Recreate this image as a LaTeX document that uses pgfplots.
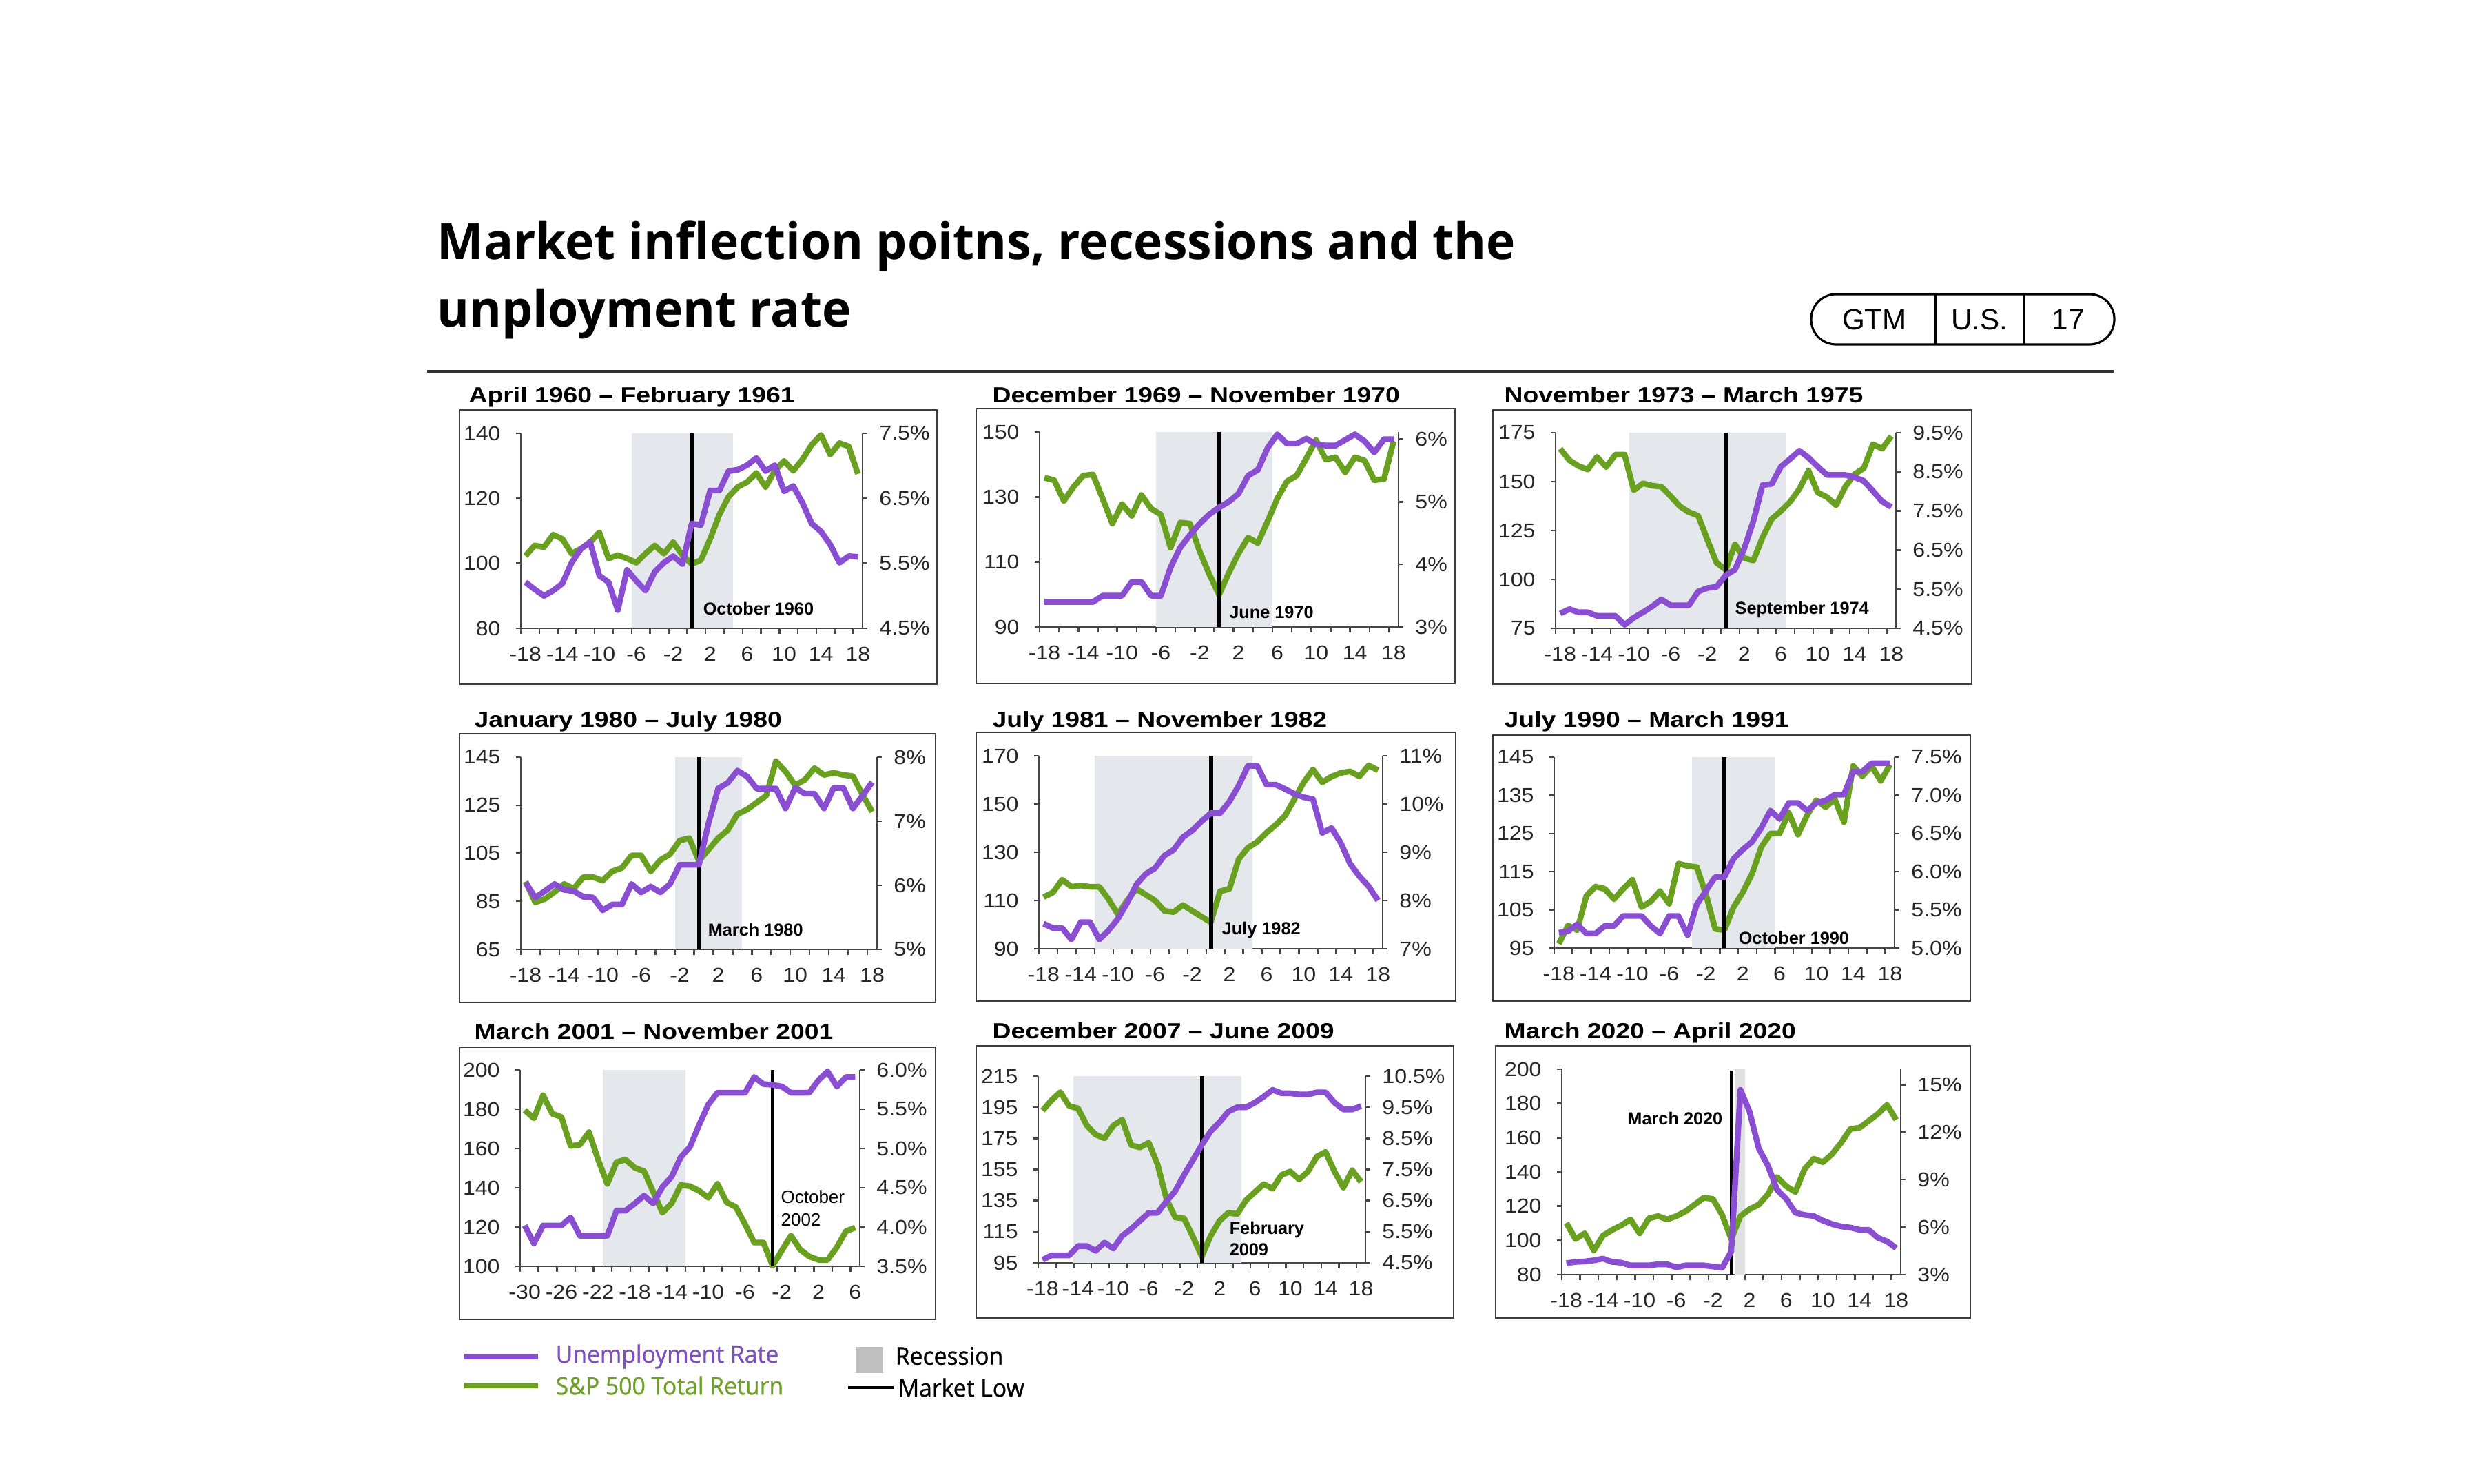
\documentclass[border=0pt]{standalone}
\usepackage{fontspec}
\usepackage{pgfplots}
\usepackage{pgfplotstable}
\pgfplotsset{compat=1.18}
\setmainfont{Liberation Sans}
\newfontfamily\ttlfont[FakeStretch=0.982]{Open Sans}
\newfontfamily\pfont[FakeStretch=1.18]{Liberation Sans}
\newfontfamily\tfont[FakeStretch=1.1]{Liberation Sans}
\newfontfamily\lgfont[FakeBold=0.9, FakeStretch=0.96]{Open Sans}

\definecolor{unc}{RGB}{137,78,210}
\definecolor{spc}{RGB}{106,160,32}
\definecolor{recess}{RGB}{228,232,236}
\definecolor{axc}{RGB}{70,70,70}
\definecolor{boxc}{RGB}{60,60,60}
\definecolor{ulg}{RGB}{125,80,190}
\definecolor{slg}{RGB}{110,160,40}

% month offset, S&P 500 total return (left), unemployment rate % (right)
\pgfplotstableread{
m s u
-18 102.3 5.21
-17 105.5 5.10
-16 105.0 5.00
-15 108.8 5.08
-14 107.5 5.19
-13 103.0 5.51
-12 104.5 5.72
-11 106.5 5.83
-10 109.5 5.31
-9 101.5 5.21
-8 102.5 4.78
-7 101.5 5.40
-6 100.2 5.23
-5 103.0 5.08
-4 105.5 5.37
-3 103.0 5.51
-2 106.5 5.61
-1 102.5 5.49
0 99.8 6.11
1 101.0 6.09
2 107.5 6.62
3 115.0 6.62
4 120.5 6.92
5 123.5 6.94
6 125.0 7.01
7 127.8 7.12
8 123.5 6.92
9 128.5 7.01
10 131.5 6.61
11 128.5 6.69
12 132.0 6.43
13 136.5 6.11
14 139.5 5.99
15 133.5 5.79
16 137.0 5.51
17 136.0 5.61
18 127.5 5.60
}\pA
\pgfplotstableread{
m s u
-18 135.9 3.40
-17 135.2 3.40
-16 128.8 3.40
-15 133.1 3.40
-14 136.6 3.40
-13 136.9 3.40
-12 129.5 3.50
-11 121.8 3.50
-10 127.8 3.50
-9 124.2 3.72
-8 130.6 3.72
-7 126.4 3.50
-6 124.6 3.50
-5 114.4 3.95
-4 122.1 4.27
-3 121.8 4.47
-2 113.3 4.65
-1 106.2 4.80
0 99.9 4.91
1 106.6 5.00
2 112.6 5.13
3 117.5 5.42
4 115.8 5.51
5 122.5 5.86
6 129.5 6.08
7 134.8 5.93
8 136.6 5.93
9 141.9 6.01
10 147.5 5.92
11 141.5 5.90
12 142.2 5.90
13 137.6 5.99
14 142.2 6.08
15 141.2 5.97
16 135.2 5.79
17 135.5 6.00
18 147.2 6.00
}\pB
\pgfplotstableread{
m s u
-18 166.8 4.88
-17 160.9 4.99
-16 157.9 4.91
-15 156.2 4.91
-14 162.6 4.82
-13 157.4 4.82
-12 163.8 4.82
-11 163.8 4.59
-10 145.6 4.77
-9 149.1 4.91
-8 147.9 5.06
-7 147.4 5.24
-6 142.6 5.09
-5 137.4 5.09
-4 134.4 5.09
-3 132.6 5.44
-2 120.3 5.53
-1 108.5 5.56
0 105.0 5.86
1 117.9 6.00
2 110.9 6.53
3 109.7 7.24
4 121.5 8.16
5 130.9 8.19
6 135.0 8.63
7 139.7 8.83
8 146.2 9.04
9 155.6 8.86
10 144.4 8.63
11 142.1 8.42
12 137.9 8.42
13 147.4 8.42
14 153.8 8.36
15 156.8 8.27
16 169.1 8.01
17 166.8 7.74
18 173.2 7.60
}\pC
\pgfplotstableread{
m s u
-18 93.2 6.04
-17 84.6 5.81
-16 86.0 5.91
-15 88.9 6.02
-14 92.2 5.93
-13 90.3 5.91
-12 95.1 5.82
-11 95.1 5.81
-10 93.6 5.61
-9 97.5 5.70
-8 98.9 5.70
-7 104.1 6.02
-6 104.1 5.89
-5 97.5 5.98
-4 102.2 5.89
-3 104.6 6.02
-2 110.3 6.32
-1 111.3 6.32
0 101.8 6.32
1 106.5 6.97
2 111.3 7.51
3 114.6 7.60
4 121.3 7.79
5 123.2 7.70
6 126.1 7.51
7 129.0 7.51
8 143.3 7.51
9 139.0 7.20
10 133.3 7.52
11 135.6 7.43
12 140.4 7.43
13 137.6 7.20
14 138.5 7.52
15 137.6 7.52
16 137.1 7.20
17 129.4 7.40
18 122.3 7.61
}\pD
\pgfplotstableread{
m s u
-18 111.4 7.52
-17 113.3 7.43
-16 118.6 7.43
-15 115.7 7.19
-14 116.2 7.55
-13 115.7 7.55
-12 115.7 7.19
-11 110.5 7.38
-10 104.3 7.62
-9 110.0 7.95
-8 114.8 8.33
-7 112.4 8.55
-6 110.0 8.67
-5 105.7 8.93
-4 105.2 9.05
-3 108.1 9.31
-2 105.7 9.45
-1 103.3 9.64
0 101.0 9.81
1 113.8 9.81
2 114.8 10.05
3 127.1 10.38
4 131.9 10.79
5 134.3 10.79
6 138.1 10.40
7 141.4 10.40
8 145.2 10.31
9 152.0 10.21
10 159.0 10.14
11 164.3 10.10
12 159.0 9.40
13 161.4 9.50
14 162.9 9.19
15 163.5 8.76
16 161.5 8.50
17 166.0 8.29
18 164.0 8.00
}\pE
\pgfplotstableread{
m s u
-18 96.1 5.20
-17 100.9 5.22
-16 99.7 5.31
-15 108.7 5.19
-14 111.1 5.19
-13 110.5 5.29
-12 107.8 5.29
-11 110.5 5.42
-10 112.9 5.42
-9 105.7 5.42
-8 107.2 5.29
-7 109.9 5.19
-6 106.6 5.42
-5 117.1 5.42
-4 116.5 5.17
-3 116.2 5.57
-2 109.0 5.75
-1 100.0 5.93
0 99.7 5.93
1 105.7 6.17
2 109.6 6.29
3 114.4 6.39
4 121.4 6.57
5 125.0 6.80
6 125.0 6.69
7 130.4 6.90
8 124.7 6.90
9 129.8 6.80
10 133.7 6.90
11 131.9 6.93
12 134.0 7.01
13 128.0 7.01
14 142.7 7.31
15 140.0 7.31
16 142.7 7.42
17 138.8 7.42
18 143.0 7.42
}\pF
\pgfplotstableread{
m s u
-30 179.5 4.02
-29 175.4 3.79
-28 187.1 4.02
-27 177.7 4.02
-26 176.0 4.02
-25 161.3 4.12
-24 161.9 3.89
-23 168.3 3.89
-22 154.3 3.89
-21 142.0 3.89
-20 153.1 4.21
-19 154.3 4.21
-18 150.2 4.30
-17 148.4 4.40
-16 137.9 4.30
-15 127.3 4.51
-14 132.0 4.64
-13 141.4 4.89
-12 140.8 5.02
-11 138.5 5.30
-10 134.9 5.56
-9 142.0 5.71
-8 132.6 5.71
-7 130.2 5.71
-6 121.5 5.71
-5 112.1 5.91
-4 112.1 5.82
-3 100.4 5.81
-2 108.0 5.79
-1 115.6 5.71
0 108.6 5.71
1 105.0 5.71
2 103.3 5.87
3 103.3 5.98
4 109.7 5.79
5 117.9 5.91
6 119.7 5.91
}\pG
\pgfplotstableread{
m s u
-18 192.9 4.60
-17 199.5 4.74
-16 204.7 4.74
-15 195.8 4.74
-14 194.3 5.04
-13 183.3 5.04
-12 177.4 4.89
-11 175.1 5.15
-10 183.3 4.96
-9 187.0 5.37
-8 170.7 5.59
-7 169.2 5.85
-6 172.2 6.11
-5 158.2 6.11
-4 136.0 6.48
-3 124.2 6.81
-2 123.5 7.33
-1 111.7 7.81
0 99.1 8.29
1 112.4 8.73
2 122.0 9.02
3 127.2 9.36
4 126.4 9.50
5 135.3 9.50
6 140.5 9.65
7 145.6 9.84
8 142.7 10.06
9 151.5 9.95
10 153.7 9.95
11 148.6 9.91
12 153.7 9.91
13 163.3 9.98
14 166.3 9.98
15 153.7 9.65
16 143.4 9.43
17 154.5 9.43
18 147.1 9.54
}\pH
\pgfplotstableread{
m s u
-18 110.2 3.72
-17 100.8 3.80
-16 104.1 3.83
-15 94.1 3.90
-14 102.8 4.01
-13 106.1 3.80
-12 108.8 3.75
-11 112.2 3.58
-10 104.1 3.58
-9 112.8 3.58
-8 114.2 3.65
-7 112.2 3.65
-6 114.2 3.46
-5 116.9 3.58
-4 120.9 3.58
-3 124.9 3.58
-2 124.2 3.51
-1 114.9 3.43
0 100.8 4.45
1 114.2 14.67
2 118.2 13.29
3 120.9 10.97
4 126.9 9.88
5 137.0 8.36
6 131.6 7.78
7 128.3 6.91
8 141.7 6.77
9 147.7 6.70
10 145.7 6.41
11 150.4 6.19
12 157.1 6.04
13 165.1 5.97
14 165.8 5.83
15 169.8 5.83
16 173.9 5.32
17 179.2 5.10
18 170.5 4.67
}\pI

\pgfplotsset{
  base/.style={scale only axis, clip=false, anchor=south west,
    xmin=-18.5, xmax=18.5,
    axis line style={draw=axc, line width=0.7pt},
    tick style={draw=axc, line width=0.7pt},
    tick align=outside, major tick length=0.07cm,
    tick label style={font=\tfont\fontsize{8.3}{9}\selectfont, text=black!85},
    /pgf/number format/assume math mode=true},
  L/.style={base, axis x line*=bottom, axis y line*=left,
    xtick={-18,-14,...,18}, minor xtick={-18.5,-16.5,...,17.5},
    minor tick length=0.08cm,
    every major x tick/.append style={draw=none},
    xticklabel style={yshift=-0.08cm}, yticklabel style={xshift=-0.1cm}},
  R/.style={base, axis x line=none, axis y line*=right, xtick=\empty,
    yticklabel style={xshift=0.05cm}},
  pct1/.style={yticklabel={\pgfmathprintnumber[fixed,fixed zerofill,precision=1]{\tick}\%}},
  pct0/.style={yticklabel={\pgfmathprintnumber[fixed,precision=0]{\tick}\%}},
}
\tikzset{
  spx/.style={spc, line width=2.4pt, line join=round},
  une/.style={unc, line width=2.4pt, line join=round},
  low/.style={black, line width=1.7pt},
  ann/.style={anchor=west, inner sep=0pt, font=\bfseries\fontsize{7.2}{8}\selectfont},
  ptitle/.style={anchor=base west, inner sep=0pt, font=\pfont\bfseries\fontsize{9}{10}\selectfont},
}

\begin{document}
\begin{tikzpicture}
\useasboundingbox (0,0) rectangle (36.10cm,-21.54cm);

% heading
\node[anchor=base west, inner sep=0pt, font=\ttlfont\bfseries\fontsize{20.7}{24}\selectfont]
  at (6.34cm,-3.77cm) {Market inflection poitns, recessions and the};
\node[anchor=base west, inner sep=0pt, font=\ttlfont\bfseries\fontsize{20.7}{24}\selectfont]
  at (6.34cm,-4.75cm) {unployment rate};
\draw[black, line width=0.9pt, rounded corners=0.36cm] (26.29cm,-4.27cm) rectangle (30.69cm,-5.00cm);
\draw[black, line width=0.9pt] (28.09cm,-4.27cm) -- (28.09cm,-5.00cm);
\draw[black, line width=0.9pt] (29.38cm,-4.27cm) -- (29.38cm,-5.00cm);
\node[font=\fontsize{12}{14}\selectfont] at (27.21cm,-4.64cm) {GTM};
\node[font=\fontsize{12}{14}\selectfont] at (28.73cm,-4.64cm) {U.S.};
\node[font=\fontsize{12}{14}\selectfont] at (30.02cm,-4.64cm) {17};
\draw[black!80, line width=0.9pt] (6.20cm,-5.39cm) -- (30.68cm,-5.39cm);

% panel frames and titles
\foreach \a/\b/\c/\d in {6.67/5.95/13.60/9.93, 14.17/5.93/21.12/9.92, 21.67/5.95/28.62/9.93,
  6.67/10.65/13.58/14.55, 14.17/10.63/21.13/14.53, 21.67/10.67/28.60/14.53,
  6.67/15.20/13.58/19.15, 14.17/15.18/21.10/19.13, 21.71/15.18/28.60/19.13}
  \draw[boxc, line width=0.8pt] (\a cm,-\b cm) rectangle (\c cm,-\d cm);
\node[ptitle] at (6.80cm,-5.85cm) {April 1960 – February 1961};
\node[ptitle] at (14.40cm,-5.85cm) {December 1969 – November 1970};
\node[ptitle] at (21.83cm,-5.85cm) {November 1973 – March 1975};
\node[ptitle] at (6.88cm,-10.55cm) {January 1980 – July 1980};
\node[ptitle] at (14.40cm,-10.55cm) {July 1981 – November 1982};
\node[ptitle] at (21.83cm,-10.55cm) {July 1990 – March 1991};
\node[ptitle] at (6.88cm,-15.08cm) {March 2001 – November 2001};
\node[ptitle] at (14.40cm,-15.07cm) {December 2007 – June 2009};
\node[ptitle] at (21.83cm,-15.07cm) {March 2020 – April 2020};

% ---- panel 1
\begin{axis}[L, at={(7.56cm,-9.12cm)}, width=4.96cm, height=2.83cm,
  ymin=80, ymax=140, ytick={80,100,...,140}]
  \addplot[fill=recess, draw=none] coordinates {(-6.5,80) (-6.5,140) (4.5,140) (4.5,80)} --cycle;
  \addplot[spx] table[x=m, y=s] {\pA};
  \addplot[low] coordinates {(0,80) (0,140)};
  \node[ann] at (axis cs:1.2,86) {October 1960};
\end{axis}
\begin{axis}[R, pct1, at={(7.56cm,-9.12cm)}, width=4.96cm, height=2.83cm,
  ymin=4.5, ymax=7.5, ytick={4.5,5.5,6.5,7.5}]
  \addplot[une] table[x=m, y=u] {\pA};
\end{axis}

% ---- panel 2
\begin{axis}[L, at={(15.09cm,-9.10cm)}, width=5.21cm, height=2.83cm,
  ymin=90, ymax=150, ytick={90,110,...,150}]
  \addplot[fill=recess, draw=none] coordinates {(-6.5,90) (-6.5,150) (5.5,150) (5.5,90)} --cycle;
  \addplot[spx] table[x=m, y=s] {\pB};
  \addplot[low] coordinates {(0,90) (0,150)};
  \node[ann] at (axis cs:1.0,94.6) {June 1970};
\end{axis}
\begin{axis}[R, pct0, at={(15.09cm,-9.10cm)}, width=5.21cm, height=2.83cm,
  ymin=3, ymax=6.117, ytick={3,4,5,6}]
  \addplot[une] table[x=m, y=u] {\pB};
\end{axis}

% ---- panel 3
\begin{axis}[L, at={(22.58cm,-9.12cm)}, width=4.94cm, height=2.84cm,
  ymin=75, ymax=175, ytick={75,100,...,175}]
  \addplot[fill=recess, draw=none] coordinates {(-10.5,75) (-10.5,175) (6.5,175) (6.5,75)} --cycle;
  \addplot[spx] table[x=m, y=s] {\pC};
  \addplot[low] coordinates {(0,75) (0,175)};
  \node[ann] at (axis cs:0.97,84.4) {September 1974};
\end{axis}
\begin{axis}[R, pct1, at={(22.58cm,-9.12cm)}, width=4.94cm, height=2.84cm,
  ymin=4.5, ymax=9.5, ytick={4.5,5.5,...,9.5}]
  \addplot[une] table[x=m, y=u] {\pC};
\end{axis}

% ---- panel 4
\begin{axis}[L, at={(7.56cm,-13.78cm)}, width=5.17cm, height=2.79cm,
  ymin=65, ymax=145, ytick={65,85,...,145}]
  \addplot[fill=recess, draw=none] coordinates {(-2.5,65) (-2.5,145) (4.5,145) (4.5,65)} --cycle;
  \addplot[spx] table[x=m, y=s] {\pD};
  \addplot[low] coordinates {(0,65) (0,145)};
  \node[ann] at (axis cs:0.9,73.1) {March 1980};
\end{axis}
\begin{axis}[R, pct0, at={(7.56cm,-13.78cm)}, width=5.17cm, height=2.79cm,
  ymin=5, ymax=8, ytick={5,6,7,8}]
  \addplot[une] table[x=m, y=u] {\pD};
\end{axis}

% ---- panel 5
\begin{axis}[L, at={(15.08cm,-13.77cm)}, width=4.99cm, height=2.80cm,
  ymin=90, ymax=170, ytick={90,110,...,170}]
  \addplot[fill=recess, draw=none] coordinates {(-12.5,90) (-12.5,170) (4.5,170) (4.5,90)} --cycle;
  \addplot[spx] table[x=m, y=s] {\pE};
  \addplot[low] coordinates {(0,90) (0,170)};
  \node[ann] at (axis cs:1.15,97.6) {July 1982};
\end{axis}
\begin{axis}[R, pct0, at={(15.08cm,-13.77cm)}, width=4.99cm, height=2.80cm,
  ymin=7, ymax=11, ytick={7,8,...,11}]
  \addplot[une] table[x=m, y=u] {\pE};
\end{axis}

% ---- panel 6
\begin{axis}[L, at={(22.56cm,-13.76cm)}, width=4.94cm, height=2.77cm,
  ymin=95, ymax=145, ytick={95,105,...,145}]
  \addplot[fill=recess, draw=none] coordinates {(-3.5,95) (-3.5,145) (5.5,145) (5.5,95)} --cycle;
  \addplot[spx] table[x=m, y=s] {\pF};
  \addplot[low] coordinates {(0,95) (0,145)};
  \node[ann] at (axis cs:1.5,97.6) {October 1990};
\end{axis}
\begin{axis}[R, pct1, at={(22.56cm,-13.76cm)}, width=4.94cm, height=2.77cm,
  ymin=5, ymax=7.5, ytick={5,5.5,...,7.5}]
  \addplot[une] table[x=m, y=u] {\pF};
\end{axis}

% ---- panel 7
\begin{axis}[L, at={(7.55cm,-18.38cm)}, width=4.93cm, height=2.85cm,
  xmin=-30.5, xmax=6.5, xtick={-30,-26,...,6}, minor xtick={-30.5,-28.5,...,5.5},
  ymin=100, ymax=200, ytick={100,120,...,200}]
  \addplot[fill=recess, draw=none] coordinates {(-21.5,100) (-21.5,200) (-12.5,200) (-12.5,100)} --cycle;
  \addplot[spx] table[x=m, y=s] {\pG};
  \addplot[black, line width=1.3pt] coordinates {(-3,100) (-3,200)};
  \node[anchor=west, inner sep=0pt, font=\fontsize{7.4}{8}\selectfont] at (axis cs:-2.14,135.5) {October};
  \node[anchor=west, inner sep=0pt, font=\fontsize{7.4}{8}\selectfont] at (axis cs:-2.14,123.8) {2002};
\end{axis}
\begin{axis}[R, pct1, at={(7.55cm,-18.38cm)}, width=4.93cm, height=2.85cm,
  xmin=-30.5, xmax=6.5, ymin=3.5, ymax=6.0, ytick={3.5,4,...,6}]
  \addplot[une] table[x=m, y=u] {\pG};
\end{axis}

% ---- panel 8
\begin{axis}[L, at={(15.07cm,-18.33cm)}, width=4.75cm, height=2.71cm,
  ymin=95, ymax=215, ytick={95,115,...,215}]
  \addplot[fill=recess, draw=none] coordinates {(-14.5,95) (-14.5,215) (4.5,215) (4.5,95)} --cycle;
  \addplot[spx] table[x=m, y=s] {\pH};
  \addplot[low] coordinates {(0,95) (0,215)};
  \node[ann] at (axis cs:3.08,116.1) {February};
  \node[ann] at (axis cs:3.08,103.6) {2009};
\end{axis}
\begin{axis}[R, pct1, at={(15.07cm,-18.33cm)}, width=4.75cm, height=2.71cm,
  ymin=4.5, ymax=10.5, ytick={4.5,5.5,...,10.5}]
  \addplot[une] table[x=m, y=u] {\pH};
\end{axis}

% ---- panel 9
\begin{axis}[L, at={(22.67cm,-18.50cm)}, width=4.92cm, height=2.98cm,
  ymin=80, ymax=200, ytick={80,100,...,200}]
  \addplot[fill=black!12, draw=none] coordinates {(0.4,80) (0.4,200) (1.5,200) (1.5,80)} --cycle;
  \addplot[spx] table[x=m, y=s] {\pI};
  \addplot[black, line width=1.3pt] coordinates {(0,80) (0,199)};
  \node[ann, anchor=east] at (axis cs:-0.9,171.2) {March 2020};
\end{axis}
\begin{axis}[R, pct0, at={(22.67cm,-18.50cm)}, width=4.92cm, height=2.98cm,
  ymin=3, ymax=15.97, ytick={3,6,...,15}]
  \addplot[une] table[x=m, y=u] {\pI};
\end{axis}

% legend
\draw[unc, line width=2.2pt] (6.74cm,-19.69cm) -- (7.81cm,-19.69cm);
\node[anchor=west, inner sep=0pt, text=ulg, font=\lgfont\fontsize{10}{12}\selectfont] at (8.06cm,-19.69cm) {Unemployment Rate};
\draw[spc, line width=2.2pt] (6.74cm,-20.11cm) -- (7.81cm,-20.11cm);
\node[anchor=west, inner sep=0pt, text=slg, font=\lgfont\fontsize{10}{12}\selectfont] at (8.06cm,-20.11cm) {S\&P 500 Total Return};
\fill[black!25] (12.42cm,-19.55cm) rectangle (12.82cm,-19.93cm);
\node[anchor=west, inner sep=0pt, font=\lgfont\fontsize{10}{12}\selectfont] at (12.99cm,-19.68cm) {Recession};
\draw[black, line width=1pt] (12.31cm,-20.14cm) -- (12.97cm,-20.14cm);
\node[anchor=west, inner sep=0pt, font=\lgfont\fontsize{10}{12}\selectfont] at (13.03cm,-20.14cm) {Market Low};
\end{tikzpicture}
\end{document}
